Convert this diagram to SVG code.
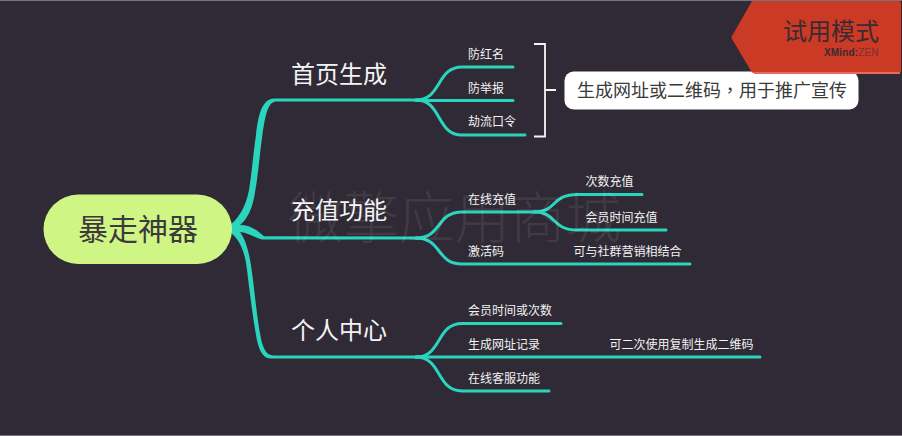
<svg xmlns="http://www.w3.org/2000/svg" width="902" height="436" viewBox="0 0 902 436">
<style>
text{font-family:"Noto Sans CJK SC","Noto Sans",sans-serif}
.m{font-size:24px;fill:#f4f4f4}
.s{font-size:12px;fill:#f2f2f2}
.c{fill:none;stroke:#2bd4bd;stroke-linecap:round}
.t{fill:#2bd4bd}
</style>
<rect width="902" height="436" fill="#2f2a35"/>
<rect width="902" height="1" fill="#77747b"/>
<rect y="435" width="902" height="1" fill="#77747b"/>
<g id="connectors">
<path class="t" d="M231 224C240 217 246 205 249 190C252 172 253 155 256 135C258 118 261 99 274 98.500L420 98.500V101.500L276 101.500C267 102 265 118 262 138C259 160 258 178 254 198C251 212 246 220 240 225C250 225 257 230 264 236.300L420 236.500V239.500L262 239.500C255 238 249 233 240 232C247 242 250 255 253 280C256 305 258 325 262 343C265 352 268 355.500 274 355.500L420 355.500V358.500L270 358.500C262 358 258 348 256 335C253 318 250 295 247 270C245 252 240 240 231 233Z"/>
<g class="c" stroke-width="3">
<path d="M416 100C442 100 436 67 462 67H513"/>
<path d="M416 100.500H513"/>
<path d="M416 100C442 100 436 135 462 135H525"/>
<path d="M416 238C442 238 436 212 462 212H536"/>
<path d="M416 238C442 238 436 264 462 264H690"/>
<path d="M534 212C558 212 550 194.500 578 194.500H642"/>
<path d="M534 212C558 212 550 230 578 230H666"/>
<path d="M416 357C442 357 436 323.500 462 323.500H561"/>
<path d="M416 357H760"/>
<path d="M416 357C442 357 436 391 462 391H549"/>
</g>
<path d="M534 44H545V136.500H534M545 90H556" fill="none" stroke="#f4f4f4" stroke-width="1.800"/>
</g>
<g id="root">
<rect x="43.500" y="194.500" width="188.500" height="69.500" rx="34.700" fill="#cff684"/>
<text x="78" y="240" font-size="30" fill="#3c3a3c">暴走神器</text>
</g>
<g id="n1"><text class="m" x="291" y="83">首页生成</text></g>
<g id="n2"><text class="m" x="291" y="219">充值功能</text></g>
<g id="n3"><text class="m" x="291" y="339">个人中心</text></g>
<g id="n11"><text class="s" x="468" y="59">防红名</text></g>
<g id="n12"><text class="s" x="468" y="93">防举报</text></g>
<g id="n13"><text class="s" x="468" y="126">劫流口令</text></g>
<g id="n21"><text class="s" x="468" y="204">在线充值</text></g>
<g id="n211"><text class="s" x="585.500" y="186">次数充值</text></g>
<g id="n212"><text class="s" x="585.500" y="222">会员时间充值</text></g>
<g id="n22"><text class="s" x="468" y="256">激活码</text></g>
<g id="n221"><text class="s" x="573.500" y="256">可与社群营销相结合</text></g>
<g id="n31"><text class="s" x="468" y="315">会员时间或次数</text></g>
<g id="n32"><text class="s" x="468" y="349">生成网址记录</text></g>
<g id="n321"><text class="s" x="609.500" y="349">可二次使用复制生成二维码</text></g>
<g id="n33"><text class="s" x="468" y="383">在线客服功能</text></g>
<g id="summary">
<rect x="564.500" y="71.500" width="294" height="38" rx="9" fill="#fff"/>
<text x="577" y="96.500" font-size="18" fill="#3a3a3a">生成网址或二维码<tspan style="font-family:'Noto Sans CJK TC',sans-serif">，</tspan>用于推广宣传</text>
</g>
<text x="288" y="238" font-size="55.500" font-weight="300" fill="#fff" fill-opacity=".08">微擎应用商城</text>
<g id="tag">
<path d="M752 1H899Q901 1 901 3V71Q901 73 899 73H754Q752 73 751 71L732 39Q731 37.500 732 36Z" fill="#cb3a25"/>
<path d="M754 72H900V74H754Z" fill="#e86a58"/>
<text x="783" y="40" font-size="24" fill="#3a2a32">试用模式</text>
<text x="824" y="56" font-size="10" font-weight="700" letter-spacing=".15" style="font-family:'Liberation Sans',sans-serif" fill="#3a2a32">XMind:<tspan font-weight="400" fill="#7a3030">ZEN</tspan></text>
</g>
</svg>
